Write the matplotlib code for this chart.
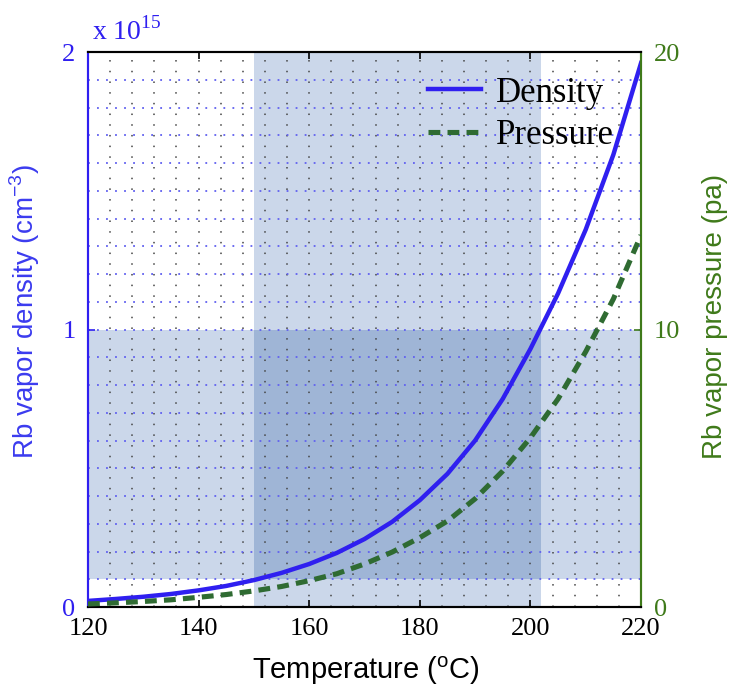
import matplotlib
matplotlib.use("Agg")
import matplotlib.pyplot as plt
from matplotlib.ticker import MultipleLocator

# Rb vapour vs. cell temperature
temperature = [120, 125, 130, 135, 140, 145, 150, 155, 160, 165, 170,
               175, 180, 185, 190, 195, 200, 205, 210, 215, 220]
# number density, units of 1e15 cm^-3
density = [0.022, 0.029, 0.037, 0.047, 0.060, 0.076, 0.097, 0.123, 0.155,
           0.195, 0.245, 0.307, 0.385, 0.48, 0.60, 0.75, 0.93, 1.13, 1.36,
           1.63, 1.96]
# vapour pressure, Pa
pressure = [0.11, 0.15, 0.20, 0.26, 0.35, 0.45, 0.58, 0.74, 0.95, 1.20, 1.55,
            1.98, 2.50, 3.10, 3.90, 4.90, 6.10, 7.50, 9.20, 11.1, 13.4]

# operating window
temp_window = [150, 202]
density_window = [0.1, 1.0]

density_ticks = [0, 1, 2]
pressure_ticks = [0, 10, 20]

BLUE = "#2f1ff0"
GREEN = "#3f7a1a"
DASH_GREEN = "#2f6b32"
LIGHT = "#cbd7ea"
DARK = "#9fb5d6"
SERIF = "Liberation Serif"
SANS = "Liberation Sans"

fig = plt.figure(figsize=(7.29, 6.88), dpi=100)
ax = fig.add_axes([0.1207, 0.1177, 0.7586, 0.8067])
ax2 = ax.twinx()

ax.set_xlim(temperature[0], temperature[-1])
ax.set_ylim(density_ticks[0], density_ticks[-1])
ax2.set_ylim(pressure_ticks[0], pressure_ticks[-1])

# shaded window: band in temperature, band in density, darker overlap
ax.axvspan(temp_window[0], temp_window[1], color=LIGHT, lw=0, zorder=0)
ax.axhspan(density_window[0], density_window[1], color=LIGHT, lw=0, zorder=0)
ax.fill_between(temp_window, density_window[0], density_window[1],
                color=DARK, lw=0, zorder=0.5)

# dotted grid
ax.xaxis.set_major_locator(MultipleLocator(20))
ax.xaxis.set_minor_locator(MultipleLocator(4))
ax.yaxis.set_major_locator(MultipleLocator(1))
ax.yaxis.set_minor_locator(MultipleLocator(0.1))
ax.grid(which="both", axis="x", color="#444444", linestyle=(0, (1, 6)),
        linewidth=1.1, zorder=1)
ax.grid(which="both", axis="y", color="#6060f0", linestyle=(0, (1, 4)),
        linewidth=1.3, zorder=1)
ax.set_axisbelow(True)

l1, = ax.plot(temperature, density, color=BLUE, lw=3.2, zorder=3,
              label="Density")
l2, = ax2.plot(temperature, pressure, color=DASH_GREEN, lw=3.7,
               dashes=(2.3, 1.4), label="Pressure", zorder=3)

# ticks and spines
ax.set_xticks([120, 140, 160, 180, 200, 220])
ax.set_yticks(density_ticks)
ax2.set_yticks(pressure_ticks)
ax.tick_params(axis="x", which="major", direction="in", length=5, width=1.2,
               top=True, pad=8, labelsize=19, labelfontfamily=SERIF)
ax.tick_params(axis="y", which="major", direction="in", length=5, width=1.2,
               color=BLUE, labelcolor=BLUE, pad=9, labelsize=19,
               labelfontfamily=SERIF)
ax.tick_params(which="minor", length=0)
ax2.tick_params(axis="y", direction="in", length=5, width=1.2, color=GREEN,
                labelcolor=GREEN, pad=9, labelsize=19, labelfontfamily=SERIF)

for a in (ax, ax2):
    a.spines["top"].set_color("black")
    a.spines["bottom"].set_color("black")
    a.spines["left"].set_color(BLUE)
    a.spines["right"].set_color(GREEN)
    for s in a.spines.values():
        s.set_linewidth(1.5)

ax.text(0.008, 1.011, r"x 10$^\mathregular{15}$", transform=ax.transAxes,
        color=BLUE, fontsize=20, family=SERIF, ha="left", va="bottom")

ax.set_xlabel(r"Temperature ($^\mathregular{o}$C)", fontsize=21, family=SANS)
ax.xaxis.set_label_coords(0.503, -0.085)
ax.set_ylabel(r"Rb vapor density (cm$^\mathregular{-3}$)", fontsize=20,
              family=SANS, color="#3b3bef")
ax.yaxis.set_label_coords(-0.083, 0.532)
ax2.set_ylabel("Rb vapor pressure (pa)", fontsize=20, family=SANS,
               color=GREEN, rotation=90)
ax2.yaxis.set_label_coords(1.11, 0.524)

leg = ax2.legend(handles=[l1, l2], loc="upper right",
                 bbox_to_anchor=(1.008, 1.012), frameon=False,
                 prop={"family": SERIF, "size": 25}, handlelength=1.5,
                 handletextpad=0.45, labelspacing=0.28)

fig.savefig("out.png", dpi=100)
